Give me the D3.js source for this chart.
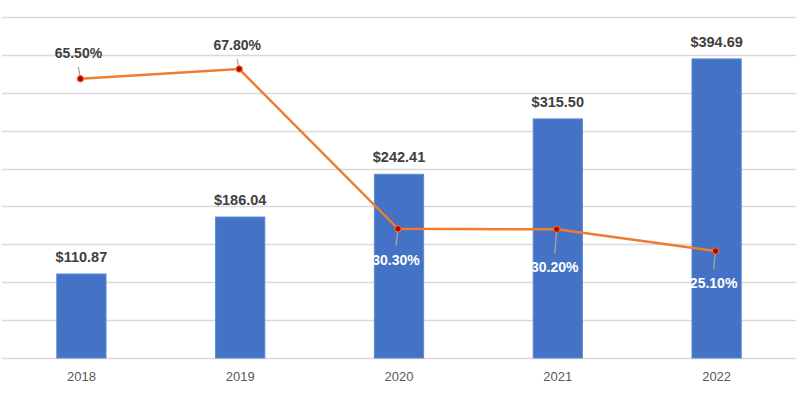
<!DOCTYPE html>
<html>
<head>
<meta charset="utf-8">
<script src="https://cdn.jsdelivr.net/npm/d3@7"></script>
<style>
  body { margin: 0; background: #fff; }
  text { font-family: "Liberation Sans", Arial, sans-serif; }
</style>
</head>
<body>
<svg width="800" height="399"></svg>
<script>
var years = ["2018", "2019", "2020", "2021", "2022"];
var revenue = [110.87, 186.04, 242.41, 315.50, 394.69];
var growth = [65.5, 67.8, 30.3, 30.2, 25.1];
// vertical offset of each percentage label from its point
var labelOffsets = [-26, -24, 31, 38, 32];

var svg = d3.select("svg");
var plotLeft = 2, plotRight = 796, plotTop = 17, plotBottom = 358;

var x = d3.scaleBand()
  .domain(years)
  .range([plotLeft, plotRight])
  .paddingInner(0.69)
  .paddingOuter(0.345);

var y = d3.scaleLinear().domain([0, 450]).range([plotBottom, plotTop]);
var y2 = d3.scaleLinear().domain([0, 80]).range([plotBottom, plotTop]);

// gridlines
svg.append("g")
  .selectAll("line")
  .data(y.ticks(9))
  .enter()
  .append("line")
  .attr("x1", plotLeft)
  .attr("x2", plotRight)
  .attr("y1", function(d) { return Math.round(y(d)) + 0.5; })
  .attr("y2", function(d) { return Math.round(y(d)) + 0.5; })
  .attr("stroke", "#d9d9d9")
  .attr("stroke-width", 1.3);

// bars
svg.append("g")
  .selectAll("rect")
  .data(revenue)
  .enter()
  .append("rect")
  .attr("x", function(d, i) { return x(years[i]); })
  .attr("y", function(d) { return y(d); })
  .attr("width", x.bandwidth())
  .attr("height", function(d) { return plotBottom - y(d); })
  .attr("fill", "#4472c4")
  .attr("stroke", "#5b8ad6")
  .attr("stroke-width", 1);

// bar labels
svg.append("g")
  .selectAll("text")
  .data(revenue)
  .enter()
  .append("text")
  .attr("x", function(d, i) { return x(years[i]) + x.bandwidth() / 2; })
  .attr("y", function(d) { return y(d) - 12; })
  .attr("text-anchor", "middle")
  .attr("font-size", 14.5)
  .attr("font-weight", "bold")
  .attr("fill", "#404040")
  .text(function(d) { return "$" + d.toFixed(2); });

// x axis labels
var xAxis = d3.axisBottom(x).tickSize(0).tickPadding(14);
var gx = svg.append("g")
  .attr("transform", "translate(0," + plotBottom + ")")
  .call(xAxis);
gx.select(".domain").remove();
gx.selectAll("text")
  .attr("font-size", 13)
  .attr("fill", "#595959")
  .style("font-family", "'Liberation Sans', Arial, sans-serif");

// growth line
var cx = function(i) { return x(years[i]) + x.bandwidth() / 2 - 1; };

// leader lines
svg.append("g")
  .selectAll("line")
  .data(growth)
  .enter()
  .append("line")
  .attr("x1", function(d, i) { return cx(i); })
  .attr("y1", function(d) { return y2(d); })
  .attr("x2", function(d, i) { return cx(i) - 2; })
  .attr("y2", function(d, i) {
    var off = labelOffsets[i];
    return y2(d) + (off < 0 ? off + 14 : off - 14);
  })
  .attr("stroke", "#a6a6a6")
  .attr("stroke-width", 1.3);

var line = d3.line()
  .x(function(d, i) { return cx(i); })
  .y(function(d) { return y2(d); });

svg.append("path")
  .datum(growth)
  .attr("d", line)
  .attr("fill", "none")
  .attr("stroke", "#ed7d31")
  .attr("stroke-width", 2.5);

svg.append("g")
  .selectAll("circle")
  .data(growth)
  .enter()
  .append("circle")
  .attr("cx", function(d, i) { return cx(i); })
  .attr("cy", function(d) { return y2(d); })
  .attr("r", 3.2)
  .attr("fill", "#c00000")
  .attr("stroke", "#ed7d31")
  .attr("stroke-width", 1);

// percentage labels
svg.append("g")
  .selectAll("text")
  .data(growth)
  .enter()
  .append("text")
  .attr("x", function(d, i) { return cx(i) - 2; })
  .attr("y", function(d, i) { return y2(d) + labelOffsets[i] + 5; })
  .attr("text-anchor", "middle")
  .attr("font-size", 14)
  .attr("font-weight", "bold")
  .attr("fill", function(d, i) { return labelOffsets[i] < 0 ? "#404040" : "#ffffff"; })
  .text(function(d) { return d.toFixed(2) + "%"; });
</script>
</body>
</html>
